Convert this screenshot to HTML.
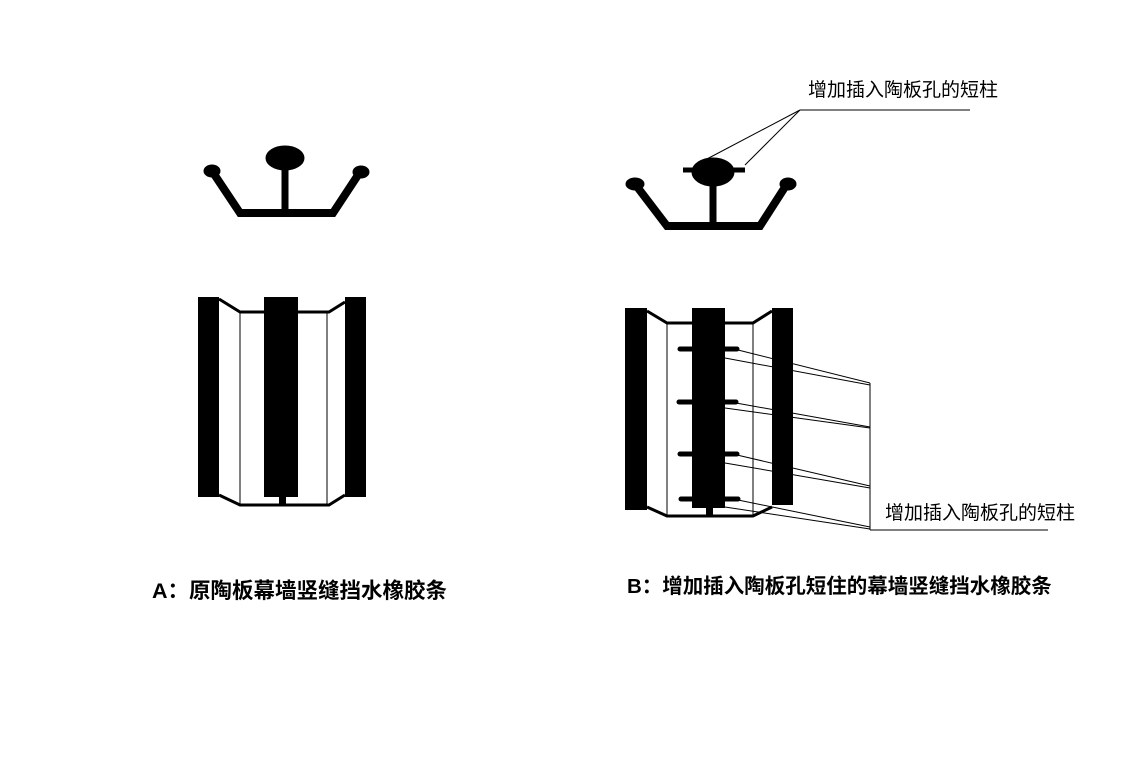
<!DOCTYPE html><html><head><meta charset="utf-8"><style>body{margin:0;background:#fff}svg{display:block}
text{font-family:"Liberation Sans","Noto Sans CJK SC",sans-serif}</style></head><body>
<svg width="1129" height="769" viewBox="0 0 1129 769" xmlns="http://www.w3.org/2000/svg">
<rect width="1129" height="769" fill="#fff"/>
<g fill="#000" stroke="#000">
<ellipse cx="285" cy="158" rx="19" ry="12"/>
<path d="M212 171 L240 213 L333 213 L360 172" fill="none" stroke-width="8" stroke-linejoin="miter"/>
<line x1="285" y1="165" x2="285" y2="213" stroke-width="7"/>
<ellipse cx="212" cy="171" rx="8" ry="6"/><ellipse cx="361" cy="172" rx="8" ry="6"/>
</g>
<g>
<rect x="198" y="297" width="21" height="200" fill="#000"/>
<rect x="345" y="297" width="21" height="200" fill="#000"/>
<rect x="264" y="297" width="34" height="200" fill="#000"/>
<path d="M219 299 L240 312 L329 312 L345 302" fill="none" stroke="#000" stroke-width="3"/>
<path d="M219 495 L240 505 L329 505 L345 495" fill="none" stroke="#000" stroke-width="3"/>
<line x1="240" y1="312" x2="240" y2="505" stroke="#000" stroke-width="1"/>
<line x1="327" y1="312" x2="327" y2="505" stroke="#000" stroke-width="1"/>
<rect x="279" y="495" width="7" height="10" fill="#000"/>
</g>
<g fill="#000" stroke="#000">
<ellipse cx="713" cy="172" rx="21" ry="14"/>
<line x1="683" y1="170" x2="745" y2="170" stroke-width="5"/>
<path d="M635 184 L667 226 L760 226 L787 184" fill="none" stroke-width="8"/>
<line x1="713" y1="180" x2="713" y2="226" stroke-width="7"/>
<ellipse cx="635" cy="184" rx="9" ry="6"/><ellipse cx="788" cy="184" rx="8" ry="6"/>
</g>
<g stroke="#000" stroke-width="1" fill="none">
<line x1="800" y1="110" x2="970" y2="110"/>
<line x1="800" y1="110" x2="705" y2="160"/>
<line x1="800" y1="110" x2="745" y2="165"/>
</g>
<text x="808" y="96" font-size="19" fill="#000">增加插入陶板孔的短柱</text>
<g>
<rect x="625" y="308" width="22" height="202" fill="#000"/>
<rect x="772" y="308" width="21" height="197" fill="#000"/>
<rect x="692" y="308" width="33" height="200" fill="#000"/>
<path d="M647 311 L667 323 L753 323 L772 311" fill="none" stroke="#000" stroke-width="3"/>
<path d="M647 507 L667 516 L753 516 L772 507" fill="none" stroke="#000" stroke-width="3"/>
<line x1="667" y1="323" x2="667" y2="516" stroke="#000"/>
<line x1="753" y1="323" x2="753" y2="516" stroke="#000"/>
<rect x="706" y="505" width="7" height="12" fill="#000"/>
<g stroke="#000" stroke-width="5" stroke-linecap="round">
<line x1="680" y1="349" x2="737" y2="349"/>
<line x1="679" y1="402" x2="736" y2="402"/>
<line x1="680" y1="454" x2="737" y2="454"/>
<line x1="681" y1="499" x2="738" y2="499"/>
</g>
<g stroke="#000" stroke-width="1">
<line x1="738" y1="350" x2="870" y2="383"/><line x1="725" y1="358" x2="870" y2="385"/>
<line x1="736" y1="403" x2="870" y2="427"/><line x1="725" y1="408" x2="870" y2="428"/>
<line x1="737" y1="455" x2="870" y2="486"/><line x1="725" y1="463" x2="870" y2="488"/>
<line x1="738" y1="500" x2="870" y2="527"/><line x1="725" y1="507" x2="870" y2="529"/>
<line x1="870" y1="383" x2="870" y2="530"/>
<line x1="870" y1="530" x2="1048" y2="530"/>
</g>
</g>
<text x="885" y="519" font-size="19" fill="#000">增加插入陶板孔的短柱</text>
<text x="152" y="598" font-size="21.5" font-weight="bold" fill="#000">A：原陶板幕墙竖缝挡水橡胶条</text>
<text x="627" y="593" font-size="20.5" font-weight="bold" fill="#000">B：增加插入陶板孔短住的幕墙竖缝挡水橡胶条</text>
</svg></body></html>
